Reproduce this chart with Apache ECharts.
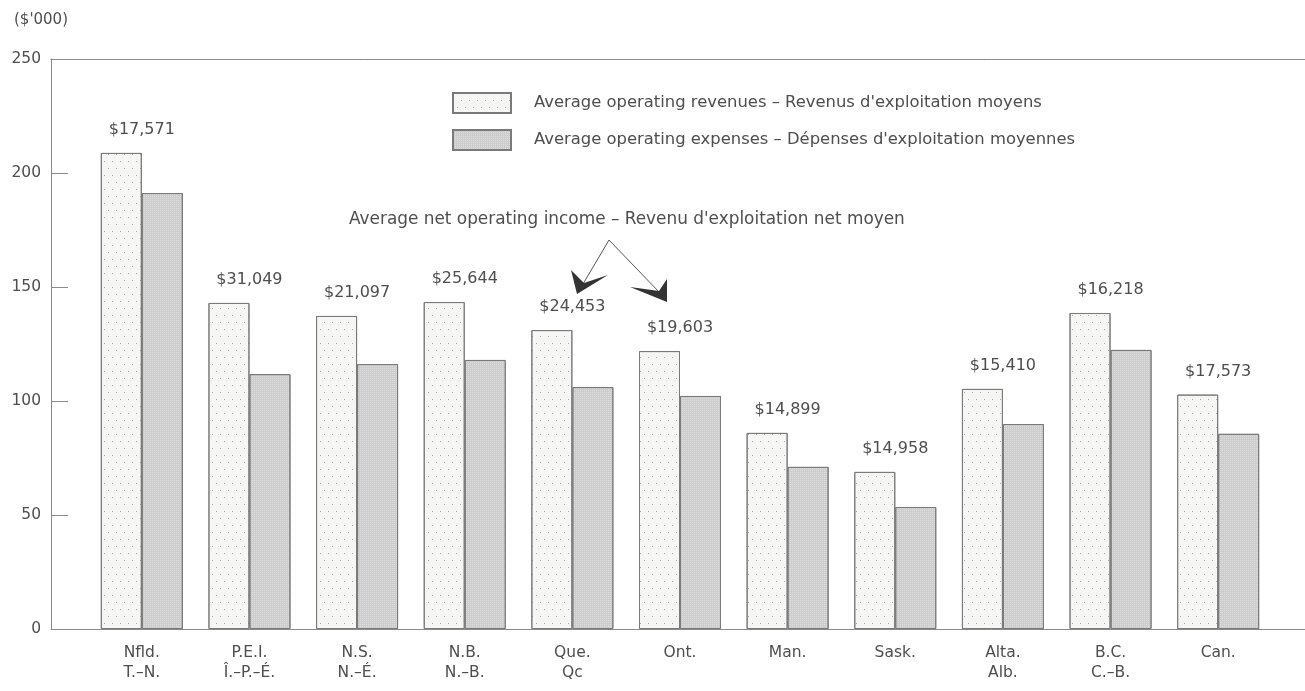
<!DOCTYPE html>
<html>
<head>
<meta charset="utf-8">
<script src="https://cdn.jsdelivr.net/npm/echarts@6/dist/echarts.min.js"></script>
<style>html,body{margin:0;padding:0;background:#fff}#c{width:1305px;height:691px}</style>
</head>
<body>
<div id="c"></div>
<script>
const categories = ["Nfld.\nT.–N.", "P.E.I.\nÎ.–P.–É.", "N.S.\nN.–É.", "N.B.\nN.–B.", "Que.\nQc", "Ont.", "Man.", "Sask.", "Alta.\nAlb.", "B.C.\nC.–B.", "Can."];
const revenues = [208.8, 143.0, 137.3, 143.4, 131.1, 121.9, 86.0, 68.9, 105.3, 138.6, 102.8];
const expenses = [191.2, 111.8, 116.2, 118.0, 106.1, 102.2, 71.1, 53.5, 89.9, 122.4, 85.6];
const netIncome = ["$17,571", "$31,049", "$21,097", "$25,644", "$24,453", "$19,603", "$14,899", "$14,958", "$15,410", "$16,218", "$17,573"];
const yTicks = [0, 50, 100, 150, 200, 250];
const seriesNames = ["Average operating revenues – Revenus d'exploitation moyens", "Average operating expenses – Dépenses d'exploitation moyennes"];
const unitLabel = "($'000)";
const noteText = "Average net operating income – Revenu d'exploitation net moyen";

const FONT = "DejaVu Sans";
const TXT = "#4e4e4e";
const LINE = '#8a8a8a';
const chart = echarts.init(document.getElementById('c'), null, {renderer: 'canvas'});

const revDecal = {symbol: 'rect', symbolSize: 1, color: 'rgba(90,90,90,0.5)', dashArrayX: [[1, 7], [0, 4, 1, 3]], dashArrayY: [1, 6]};
const expDecal = {symbol: 'rect', symbolSize: 1, color: 'rgba(255,255,255,0.35)', dashArrayX: [1, 1], dashArrayY: [1, 1]};

chart.setOption({
  animation: false,
  backgroundColor: '#fff',
  textStyle: {fontFamily: FONT, color: TXT},
  title: {text: unitLabel, left: 9, top: 8, textStyle: {fontFamily: FONT, fontSize: 15, fontWeight: 'normal', color: TXT}},
  legend: {
    orient: 'vertical', left: 452, top: 92, itemWidth: 58, itemHeight: 20, itemGap: 15, padding: 0,
    icon: 'rect',
    textStyle: {fontFamily: FONT, fontSize: 16.4, color: TXT, padding: [0, 0, 0, 18]},
    data: seriesNames
  },
  grid: [
    {left: 51, right: 0, top: 59, bottom: 62},
    {left: 88, right: 33, top: 59, bottom: 62}
  ],
  xAxis: [
    {gridIndex: 0, type: 'value', min: 0, max: 1, position: 'bottom', axisLine: {show: true, onZero: false, lineStyle: {color: LINE}},
     axisTick: {show: false}, axisLabel: {show: false}, splitLine: {show: false}},
    {gridIndex: 1, type: 'category', data: categories, axisLine: {show: false}, axisTick: {show: false},
     axisLabel: {fontFamily: FONT, fontSize: 15.5, color: TXT, margin: 14, lineHeight: 20, interval: 0}},
    {gridIndex: 0, type: 'value', min: 0, max: 1, position: 'top', axisLine: {show: true, onZero: false, lineStyle: {color: LINE}},
     axisTick: {show: false}, axisLabel: {show: false}, splitLine: {show: false}}
  ],
  yAxis: [
    {gridIndex: 0, type: 'value', min: yTicks[0], max: yTicks[yTicks.length - 1], interval: 50,
     axisLine: {show: true, lineStyle: {color: LINE}},
     axisTick: {show: true, inside: true, length: 17, lineStyle: {color: LINE}},
     splitLine: {show: false},
     axisLabel: {fontFamily: FONT, fontSize: 15.5, color: TXT, margin: 10}},
    {gridIndex: 1, type: 'value', min: yTicks[0], max: yTicks[yTicks.length - 1], show: false, splitLine: {show: false}}
  ],
  series: [
    {
      name: seriesNames[0], type: 'bar', xAxisIndex: 1, yAxisIndex: 1, data: revenues,
      barWidth: 41, barGap: '0%',
      itemStyle: {color: '#f6f6f4', borderColor: '#7a7a7a', borderWidth: 1, decal: revDecal},
      label: {show: true, position: 'top', distance: 5, offset: [20.5, -10],
        formatter: p => netIncome[p.dataIndex], fontFamily: FONT, fontSize: 16, color: TXT}
    },
    {
      name: seriesNames[1], type: 'bar', xAxisIndex: 1, yAxisIndex: 1, data: expenses,
      barWidth: 41, barGap: '0%',
      itemStyle: {color: '#cdcdcd', borderColor: '#7a7a7a', borderWidth: 1, decal: expDecal}
    }
  ],
  graphic: [
    {type: 'text', left: 349, top: 211, style: {text: noteText, font: '16.9px "' + FONT + '"', fill: TXT}},
    {type: 'polyline', shape: {points: [[583, 284], [609, 240], [661, 294]]}, style: {stroke: '#555', lineWidth: 1, fill: null}},
    {type: 'polygon', shape: {points: [[577, 294], [571, 270], [584, 283], [608, 275]]}, style: {fill: '#333'}},
    {type: 'polygon', shape: {points: [[667, 302], [630, 287], [659, 291], [667, 279]]}, style: {fill: '#333'}}
  ]
});
</script>
</body>
</html>
